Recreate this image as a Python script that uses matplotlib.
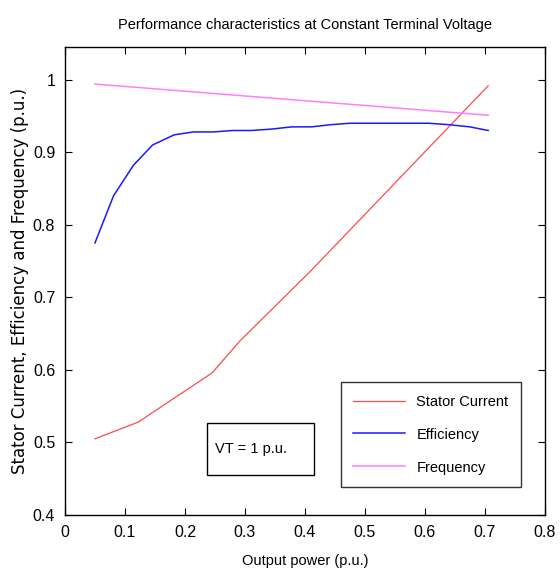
import numpy as np
import matplotlib
matplotlib.use("Agg")
import matplotlib.pyplot as plt
from matplotlib.patches import Rectangle

# values
p_out = [0.05, 0.081, 0.114, 0.146, 0.182, 0.214, 0.247, 0.28, 0.311, 0.345,
         0.378, 0.411, 0.443, 0.475, 0.508, 0.541, 0.574, 0.606, 0.64, 0.675, 0.7055]
efficiency = [0.775, 0.84, 0.882, 0.91, 0.924, 0.928, 0.928, 0.93, 0.93, 0.932,
              0.935, 0.935, 0.938, 0.94, 0.94, 0.94, 0.94, 0.94, 0.938, 0.935, 0.93]

p_cur = [0.05, 0.122, 0.2455, 0.2917, 0.408, 0.7055]
stator_current = [0.505, 0.528, 0.596, 0.640, 0.735, 0.9916]

p_freq = [0.05, 0.7055]
frequency = [0.994, 0.951]

xticks = [0, 0.1, 0.2, 0.3, 0.4, 0.5, 0.6, 0.7, 0.8]
xlabels = ["0", "0.1", "0.2", "0.3", "0.4", "0.5", "0.6", "0.7", "0.8"]
yticks = [0.4, 0.5, 0.6, 0.7, 0.8, 0.9, 1.0]
ylabels = ["0.4", "0.5", "0.6", "0.7", "0.8", "0.9", "1"]

plt.rcParams['font.family'] = ["Liberation Sans", "DejaVu Sans"]

fig = plt.figure(figsize=(5.6, 5.74), dpi=100)
ax = fig.add_axes([0.116, 0.1028, 0.857, 0.8152])

ax.plot(p_cur, stator_current, color="#ff4a4a", lw=0.9, label="Stator Current")
ax.plot(p_out, efficiency, color="#1a1aff", lw=1.1, label="Efficiency")
ax.plot(p_freq, frequency, color="#ff7dff", lw=1.1, label="Frequency")

ax.set_xlim(0, 0.8)
ax.set_ylim(0.4, 1.045)
ax.set_xticks(xticks)
ax.set_xticklabels(xlabels)
ax.set_yticks(yticks)
ax.set_yticklabels(ylabels)
ax.tick_params(direction="in", top=True, right=True, length=5, labelsize=11.5,
               width=0.8, pad=7)
for s in ax.spines.values():
    s.set_linewidth(1.0)

ax.set_title("Performance characteristics at Constant Terminal Voltage", fontsize=10.5, pad=13)
ax.set_xlabel("Output power (p.u.)", fontsize=10.5, labelpad=10)
ax.set_ylabel("Stator Current, Efficiency and Frequency (p.u.)", fontsize=12,
              family=["DejaVu Sans"], labelpad=3)

leg = ax.legend(loc="lower right", bbox_to_anchor=(0.95, 0.06), fontsize=10.5,
                frameon=True, fancybox=False, edgecolor="black", handlelength=3.6,
                handletextpad=0.75, borderpad=0.85, labelspacing=1.3, borderaxespad=0)
leg.get_frame().set_linewidth(1.0)

# "VT = 1 p.u." note box
ax.add_patch(Rectangle((0.2367, 0.455), 0.1783, 0.072, fill=False, ec="black", lw=1.0))
ax.text(0.25, 0.491, "VT = 1 p.u.", fontsize=10.5, va="center", ha="left")

fig.savefig("out.png", dpi=100)
